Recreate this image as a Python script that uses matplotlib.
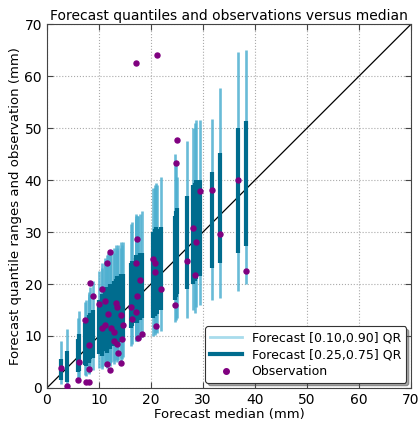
import matplotlib
matplotlib.use("Agg")
import matplotlib.pyplot as plt
from matplotlib.lines import Line2D

# forecast median and quantiles per event (mm), plus the observation
median = [2.7, 3.8, 5.9, 6.2, 7.3, 7.6, 8.0, 8.1, 8.1, 8.3, 8.8,
          10.1, 10.5, 10.5, 11.2, 11.2, 11.5, 11.5, 11.8, 12.2, 12.1, 12.4,
          12.8, 12.8, 13.3, 13.5, 13.5, 13.7, 14.2, 14.4, 14.7, 14.2,
          16.1, 16.4, 17.1, 17.1, 17.3, 17.4, 17.9, 17.6, 18.2, 17.2,
          20.4, 20.8, 20.8, 21.0, 21.9, 21.1,
          24.6, 24.9, 25.1, 27.0, 28.0, 28.5, 28.7, 29.4,
          31.7, 33.3, 36.7, 38.3]
q10 = [0.8, 0.4, 1.8, 2.0, 2.5, 2.3, 2.8, 3.0, 2.6, 3.2, 3.5,
       3.8, 4.0, 3.6, 4.2, 4.5, 4.3, 3.9, 4.6, 4.8, 4.2, 5.0,
       5.1, 4.7, 5.3, 5.5, 5.0, 5.4, 5.8, 5.6, 6.0, 5.2,
       8.0, 8.5, 9.0, 9.5, 9.2, 9.0, 9.5, 9.3, 9.8, 9.0,
       10.0, 10.5, 10.2, 10.8, 11.0, 10.5,
       12.6, 13.0, 13.5, 13.5, 15.0, 14.5, 15.5, 16.0,
       17.0, 17.4, 18.7, 20.0]
q25 = [1.5, 1.1, 3.0, 3.3, 4.5, 4.2, 5.0, 5.2, 4.8, 5.5, 5.8,
       6.5, 7.0, 6.2, 7.2, 7.5, 7.3, 6.8, 7.8, 8.0, 7.5, 8.2,
       8.5, 8.0, 8.8, 9.0, 8.5, 9.0, 9.5, 9.2, 9.8, 8.8,
       11.5, 12.0, 12.5, 13.0, 12.8, 12.5, 13.0, 13.2, 13.5, 12.8,
       13.5, 14.0, 13.8, 14.5, 15.0, 14.2,
       17.0, 17.5, 18.0, 19.0, 20.0, 20.5, 21.0, 21.5,
       23.0, 24.0, 26.0, 27.3]
q75 = [5.5, 7.1, 9.5, 10.3, 12.5, 12.0, 13.5, 14.0, 13.0, 14.5, 15.0,
       17.0, 18.0, 16.5, 18.5, 19.0, 19.5, 18.0, 19.5, 20.0, 19.0, 20.0,
       20.5, 19.5, 21.0, 21.5, 20.5, 21.0, 22.0, 21.5, 22.0, 21.0,
       24.0, 24.5, 25.0, 25.5, 25.0, 25.5, 26.0, 25.5, 26.0, 25.0,
       30.0, 30.5, 30.0, 31.0, 31.0, 30.5,
       33.0, 34.0, 34.7, 37.0, 39.0, 39.5, 40.0, 40.0,
       41.5, 45.3, 50.0, 51.3]
q90 = [9.0, 11.3, 13.5, 14.8, 16.5, 17.0, 18.0, 18.5, 17.5, 19.5, 20.5,
       22.5, 24.0, 23.0, 24.5, 25.0, 25.5, 24.0, 26.0, 26.5, 25.5, 26.0,
       27.0, 26.0, 27.5, 27.0, 26.5, 27.5, 28.0, 27.5, 28.0, 27.0,
       31.5, 32.0, 33.0, 33.5, 33.0, 33.0, 33.5, 33.0, 34.0, 32.5,
       38.5, 39.0, 38.5, 39.5, 40.5, 39.0,
       45.0, 43.0, 40.5, 47.5, 50.0, 51.0, 51.5, 51.6,
       51.7, 57.8, 64.6, 65.0]
obs = [3.9, 0.3, 1.5, 4.9, 13.0, 1.1, 1.2, 8.3, 3.7, 20.1, 17.7,
       16.1, 19.0, 11.6, 16.7, 12.1, 24.1, 4.6, 14.2, 26.2, 3.5, 11.6,
       10.8, 9.0, 16.3, 15.5, 8.4, 6.7, 14.0, 9.5, 12.1, 4.8,
       15.6, 13.3, 14.6, 24.1, 28.7, 17.6, 20.8, 9.7, 10.3, 62.6,
       24.8, 24.1, 22.4, 11.9, 19.1, 64.0,
       15.9, 43.3, 47.8, 24.4, 30.8, 21.7, 28.0, 37.9,
       38.1, 29.7, 40.0, 22.6]

light = '#4fb0d0'
dark = '#006c8e'
purple = '#800080'

fig = plt.figure(figsize=(4.19, 4.24), dpi=100)
ax = fig.add_axes([0.112, 0.085, 0.869, 0.858])

ax.plot([0, 70], [0, 70], color='black', lw=0.9, zorder=1)
ax.vlines(median, q10, q90, colors=light, lw=1.9, alpha=0.85, zorder=2)
ax.vlines(median, q25, q75, colors=dark, lw=3.0, zorder=3)
ax.plot(median, obs, 'o', color=purple, mec=purple, ms=3.6, zorder=4)

ax.set_xlim(0, 70)
ax.set_ylim(0, 70)
ax.set_xticks(range(0, 71, 10))
ax.set_yticks(range(0, 71, 10))
ax.tick_params(direction='in', top=True, right=True, labelsize=10, length=4,
               color='#444444')
ax.grid(True, linestyle=':', color='#aaaaaa', lw=0.8)
ax.set_axisbelow(True)
for sp in ax.spines.values():
    sp.set_color('#444444')

ax.set_title('Forecast quantiles and observations versus median', fontsize=10, pad=3)
ax.set_xlabel('Forecast median (mm)', fontsize=9.5, labelpad=1)
ax.set_ylabel('Forecast quantile ranges and observation (mm)', fontsize=9.5, labelpad=2)

handles = [Line2D([], [], color='#a8dcec', lw=2),
           Line2D([], [], color=dark, lw=3),
           Line2D([], [], ls='', marker='o', color=purple, mec=purple, ms=4)]
labels = ['Forecast [0.10,0.90] QR', 'Forecast [0.25,0.75] QR', 'Observation']
leg = ax.legend(handles, labels, loc='lower right', fontsize=9, shadow=True,
                fancybox=True, framealpha=1, edgecolor='#333333',
                borderaxespad=0.4, handlelength=2.5, labelspacing=0.3)
leg.get_frame().set_linewidth(0.8)

fig.savefig('out.png', dpi=100)
